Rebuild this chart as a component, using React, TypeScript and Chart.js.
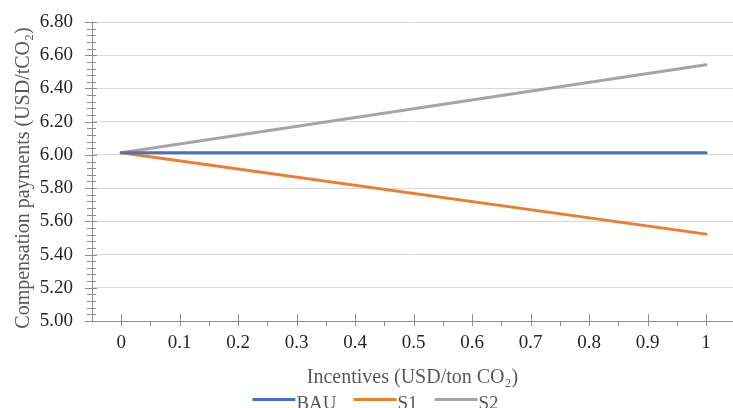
import React, { useEffect, useRef } from "react";
import { Chart, registerables } from "chart.js";

Chart.register(...registerables);

// Incentive levels (USD/ton CO2) and compensation payments (USD/tCO2) per scenario
const incentives = [0, 1];
const bauPayments = [6.013, 6.013];
const s1Payments = [6.013, 5.523];
const s2Payments = [6.013, 6.543];

const seriesNames = ["BAU", "S1", "S2"];
const seriesColors = ["#4472C4", "#ED7D31", "#A5A5A5"];

const xTickValues = [0, 0.1, 0.2, 0.3, 0.4, 0.5, 0.6, 0.7, 0.8, 0.9, 1];
const xTickLabels = ["0", "0.1", "0.2", "0.3", "0.4", "0.5", "0.6", "0.7", "0.8", "0.9", "1"];
const xMinorTickValues = [0.05, 0.15, 0.25, 0.35, 0.45, 0.55, 0.65, 0.75, 0.85, 0.95];

const yMin = 5.0;
const yMax = 6.8;
const yStep = 0.2;
const yMinorStep = 0.04;

const xTitle = "Incentives (USD/ton CO\u2082)";
const yTitle = "Compensation payments (USD/tCO\u2082)";

const FONT = "'Liberation Serif', 'Times New Roman', serif";
const AXIS_COLOR = "#8f8f8f";
const TITLE_COLOR = "#595959";

const decorations = {
  id: "decorations",
  afterDraw(chart: any) {
    const { ctx, chartArea, scales } = chart;
    const xs = scales.x;
    const ys = scales.y;
    const left = chartArea.left;
    const bottom = chartArea.bottom;

    ctx.save();
    ctx.strokeStyle = AXIS_COLOR;
    ctx.lineWidth = 1;

    // axis lines
    ctx.beginPath();
    ctx.moveTo(left + 0.5, chartArea.top);
    ctx.lineTo(left + 0.5, bottom + 0.5);
    ctx.lineTo(chartArea.right, bottom + 0.5);
    ctx.stroke();

    // x ticks: major cross the axis, minor hang below
    ctx.beginPath();
    xTickValues.forEach((v) => {
      const px = Math.round(xs.getPixelForValue(v)) + 0.5;
      ctx.moveTo(px, bottom - 7);
      ctx.lineTo(px, bottom + 5);
    });
    xMinorTickValues.forEach((v) => {
      const px = Math.round(xs.getPixelForValue(v)) + 0.5;
      ctx.moveTo(px, bottom);
      ctx.lineTo(px, bottom + 5);
    });
    ctx.stroke();

    // y ticks
    ctx.beginPath();
    const nMinor = Math.round((yMax - yMin) / yMinorStep);
    for (let i = 0; i <= nMinor; i++) {
      const v = yMin + i * yMinorStep;
      const py = Math.round(ys.getPixelForValue(v)) + 0.5;
      ctx.moveTo(left - 5, py);
      ctx.lineTo(left + 4, py);
    }
    const nMajor = Math.round((yMax - yMin) / yStep);
    for (let i = 0; i <= nMajor; i++) {
      const v = yMin + i * yStep;
      const py = Math.round(ys.getPixelForValue(v)) + 0.5;
      ctx.moveTo(left - 7, py);
      ctx.lineTo(left + 5, py);
    }
    ctx.stroke();

    // axis titles
    ctx.fillStyle = TITLE_COLOR;
    ctx.font = `20px ${FONT}`;
    ctx.textAlign = "center";
    ctx.textBaseline = "alphabetic";
    ctx.fillText(xTitle, (chartArea.left + chartArea.right) / 2, 383);

    ctx.save();
    ctx.translate(29, 178);
    ctx.rotate(-Math.PI / 2);
    ctx.fillText(yTitle, 0, 0);
    ctx.restore();

    // legend
    ctx.font = `19px ${FONT}`;
    ctx.textAlign = "left";
    const lineLen = 43;
    const textGap = 1;
    const itemGap = 17;
    const widths = seriesNames.map((n) => ctx.measureText(n).width);
    const total =
      widths.reduce((a, w) => a + lineLen + textGap + w, 0) + itemGap * (seriesNames.length - 1);
    let x = 375.5 - total / 2;
    const ly = 399.5;
    seriesNames.forEach((name, i) => {
      ctx.strokeStyle = seriesColors[i];
      ctx.lineWidth = 3;
      ctx.lineCap = "butt";
      ctx.beginPath();
      ctx.moveTo(x, ly);
      ctx.lineTo(x + lineLen, ly);
      ctx.stroke();
      ctx.fillStyle = TITLE_COLOR;
      ctx.fillText(name, x + lineLen + textGap, 409);
      x += lineLen + textGap + widths[i] + itemGap;
    });

    ctx.restore();
  },
};

export default function App() {
  const canvasRef = useRef<HTMLCanvasElement | null>(null);

  useEffect(() => {
    document.body.style.margin = "0";
    const canvas = canvasRef.current;
    if (!canvas) return;

    const toPoints = (vals: number[]) => incentives.map((x, i) => ({ x, y: vals[i] }));

    const chart = new Chart(canvas, {
      type: "line",
      data: {
        datasets: [bauPayments, s1Payments, s2Payments].map((vals, i) => ({
          label: seriesNames[i],
          data: toPoints(vals),
          borderColor: seriesColors[i],
          backgroundColor: seriesColors[i],
          borderWidth: 3,
          borderCapStyle: "round" as const,
          pointRadius: 0,
          tension: 0,
        })),
      },
      options: {
        responsive: false,
        animation: false,
        devicePixelRatio: 1,
        layout: { padding: { top: 22, right: 0, left: 0, bottom: 0 } },
        plugins: {
          legend: { display: false },
          tooltip: { enabled: false },
        },
        scales: {
          x: {
            type: "linear",
            min: -0.05,
            max: 1.046,
            grid: { display: false, drawTicks: false },
            border: { display: false },
            afterBuildTicks: (scale: any) => {
              scale.ticks = xTickValues.map((v) => ({ value: v }));
            },
            afterFit: (scale: any) => {
              scale.height = 87;
              scale.paddingLeft = 0;
              scale.paddingRight = 0;
            },
            ticks: {
              autoSkip: false,
              maxRotation: 0,
              padding: 11,
              color: "#262626",
              font: { family: FONT, size: 19 },
              callback: (_v: any, i: number) => xTickLabels[i],
            },
          },
          y: {
            type: "linear",
            min: yMin,
            max: yMax,
            grid: { color: "#d9d9d9", lineWidth: 1, drawTicks: false },
            border: { display: false },
            afterFit: (scale: any) => {
              scale.width = 92;
              scale.paddingTop = 0;
              scale.paddingBottom = 0;
            },
            ticks: {
              stepSize: yStep,
              padding: 19,
              color: "#262626",
              font: { family: FONT, size: 19 },
              callback: (v: any) => Number(v).toFixed(2),
            },
          },
        },
      },
      plugins: [decorations],
    });

    return () => chart.destroy();
  }, []);

  return (
    <div style={{ width: 733, height: 408 }}>
      <canvas ref={canvasRef} width={733} height={408} style={{ display: "block" }} />
    </div>
  );
}
